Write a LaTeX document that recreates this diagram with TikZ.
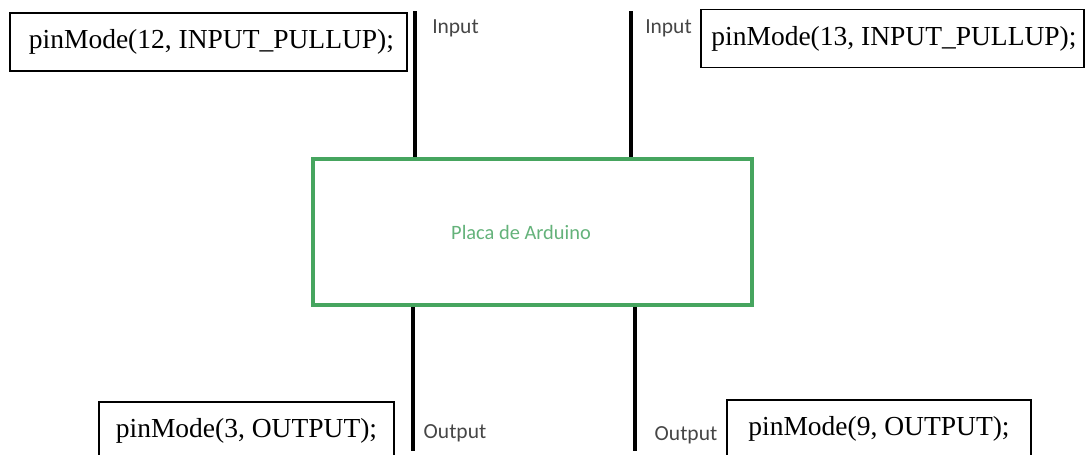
\documentclass[tikz,border=0pt]{standalone}
\usepackage{fontspec}
\setmainfont{Liberation Serif}
\newfontfamily\labelfont{Carlito}
\definecolor{boardgreen}{RGB}{70,165,95}
\definecolor{boardtext}{RGB}{100,178,122}
\definecolor{labelgray}{RGB}{70,70,70}
\tikzset{
	codebox/.style={draw=black, line width=1.5pt, minimum width=#1, minimum height=58pt, inner sep=0pt, font=\fontsize{27.5}{30}\selectfont},
	board/.style={draw=boardgreen, line width=4.5pt, minimum width=439pt, minimum height=146pt},
	boardlabel/.style={text=boardtext, font=\labelfont\fontsize{20.4}{23}\selectfont, inner sep=0pt},
	pinlabel/.style={text=labelgray, font=\labelfont\fontsize{21.5}{24}\selectfont, inner sep=0pt},
	pinwire/.style={line width=4pt},
}

\begin{document}
\begin{tikzpicture}[x=1pt, y=-1pt]
		%%%%% START %%%%%
		\useasboundingbox (0, 0) rectangle (1090, 455);
		\clip (0, 0) rectangle (1090, 455);
		
		% the board
		\node[board] (board) at (532.5, 232) {};
		\node[boardlabel] (boardname) at (521, 232) {Placa de Arduino};
		
		% code for each pin
		\node[codebox=397pt] (pin12) at (208.5, 42) {\hspace{6pt}pinMode(12, INPUT\_PULLUP);};
		\node[codebox=383pt] (pin13) at (892.5, 38.5) {\hspace{3pt}pinMode(13, INPUT\_PULLUP);};
		\node[codebox=295pt] (pin3) at (246.5, 431) {pinMode(3, OUTPUT);};
		\node[codebox=304pt] (pin9) at (879, 429) {pinMode(9, OUTPUT);};
		
		% wires in
		\coordinate (in12) at (415, 11);
		\coordinate (in13) at (631, 11);
		\draw[pinwire] (in12) -- (in12 |- board.north);
		\draw[pinwire] (in13) -- (in13 |- board.north);
		\node[pinlabel] (in12name) at (455.5, 28) {Input};
		\node[pinlabel] (in13name) at (668.5, 28) {Input};
		
		% wires out
		\coordinate (out3) at (413, 451);
		\coordinate (out9) at (635, 451);
		\draw[pinwire] (out3 |- board.south) -- (out3);
		\draw[pinwire] (out9 |- board.south) -- (out9);
		\node[pinlabel] (out3name) at (455, 433) {Output};
		\node[pinlabel] (out9name) at (686, 435) {Output};
		%%%%% END %%%%%
	\end{tikzpicture}
\end{document}
